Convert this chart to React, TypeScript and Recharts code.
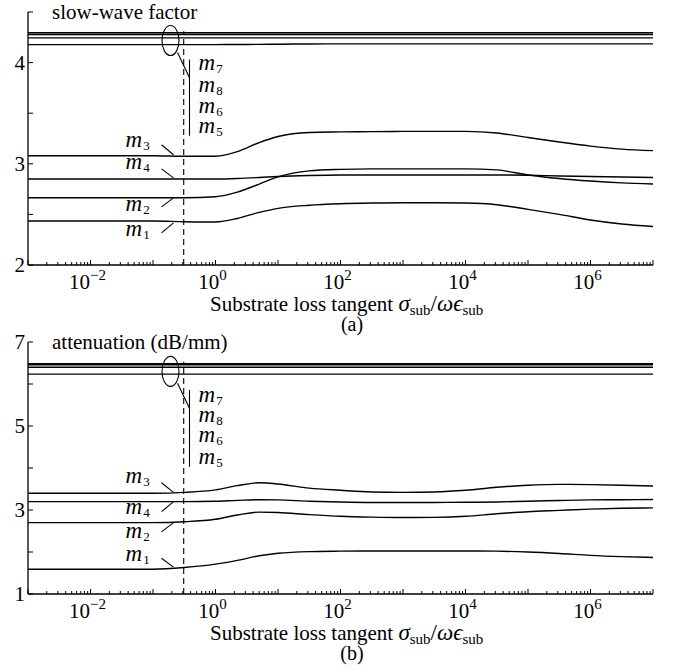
import React from 'react';
import { LineChart, Line, XAxis, YAxis, ReferenceLine, ReferenceDot } from 'recharts';

// x grid as log10 exponents of the substrate loss tangent
const logX = [-3, -2, -1, -0.5, 0, 0.35, 0.7, 1, 1.5, 2, 2.5, 3, 3.5, 4, 4.5, 5, 5.5, 6, 6.5, 7];

// (a) slow-wave factor
const swfM7 = [4.295, 4.295, 4.295, 4.295, 4.295, 4.295, 4.295, 4.295, 4.295, 4.295, 4.295, 4.295, 4.295, 4.295, 4.295, 4.295, 4.295, 4.295, 4.295, 4.295];
const swfM8 = [4.278, 4.278, 4.278, 4.278, 4.278, 4.278, 4.278, 4.278, 4.278, 4.278, 4.278, 4.278, 4.278, 4.278, 4.278, 4.278, 4.278, 4.278, 4.278, 4.278];
const swfM6 = [4.244, 4.244, 4.244, 4.244, 4.244, 4.244, 4.244, 4.244, 4.244, 4.244, 4.244, 4.244, 4.244, 4.244, 4.244, 4.244, 4.244, 4.244, 4.244, 4.244];
const swfM5 = [4.178, 4.178, 4.178, 4.178, 4.178, 4.179, 4.18, 4.182, 4.184, 4.185, 4.185, 4.185, 4.185, 4.185, 4.185, 4.185, 4.185, 4.185, 4.185, 4.185];
const swfM3 = [3.08, 3.08, 3.08, 3.075, 3.075, 3.12, 3.21, 3.27, 3.31, 3.315, 3.318, 3.32, 3.32, 3.32, 3.305, 3.26, 3.215, 3.175, 3.145, 3.13];
const swfM4 = [2.85, 2.85, 2.85, 2.85, 2.85, 2.855, 2.865, 2.875, 2.885, 2.89, 2.89, 2.89, 2.89, 2.89, 2.89, 2.887, 2.88, 2.875, 2.87, 2.865];
const swfM2 = [2.665, 2.665, 2.665, 2.665, 2.675, 2.72, 2.8, 2.87, 2.93, 2.945, 2.95, 2.95, 2.95, 2.95, 2.94, 2.89, 2.855, 2.83, 2.812, 2.8];
const swfM1 = [2.435, 2.435, 2.435, 2.428, 2.425, 2.46, 2.52, 2.56, 2.59, 2.605, 2.612, 2.615, 2.615, 2.612, 2.595, 2.55, 2.5, 2.445, 2.405, 2.38];

// (b) attenuation (dB/mm)
const attM7 = [6.485, 6.485, 6.485, 6.485, 6.485, 6.485, 6.485, 6.485, 6.485, 6.485, 6.485, 6.485, 6.485, 6.485, 6.485, 6.485, 6.485, 6.485, 6.485, 6.485];
const attM8 = [6.46, 6.46, 6.46, 6.46, 6.46, 6.46, 6.46, 6.46, 6.46, 6.46, 6.46, 6.46, 6.46, 6.46, 6.46, 6.46, 6.46, 6.46, 6.46, 6.46];
const attM6 = [6.4, 6.4, 6.4, 6.4, 6.4, 6.4, 6.4, 6.4, 6.4, 6.4, 6.4, 6.4, 6.4, 6.4, 6.4, 6.4, 6.4, 6.4, 6.4, 6.4];
const attM5 = [6.235, 6.235, 6.235, 6.235, 6.235, 6.235, 6.235, 6.235, 6.235, 6.235, 6.235, 6.235, 6.235, 6.235, 6.235, 6.235, 6.235, 6.235, 6.235, 6.235];
const attM3 = [3.4, 3.4, 3.4, 3.42, 3.48, 3.58, 3.65, 3.62, 3.52, 3.47, 3.43, 3.42, 3.43, 3.47, 3.54, 3.59, 3.61, 3.605, 3.59, 3.57];
const attM4 = [3.2, 3.2, 3.2, 3.2, 3.21, 3.23, 3.245, 3.24, 3.21, 3.19, 3.18, 3.18, 3.18, 3.183, 3.19, 3.21, 3.225, 3.24, 3.245, 3.25];
const attM2 = [2.7, 2.7, 2.7, 2.72, 2.78, 2.88, 2.95, 2.94, 2.89, 2.85, 2.83, 2.82, 2.825, 2.85, 2.91, 2.96, 2.99, 3.02, 3.04, 3.05];
const attM1 = [1.59, 1.59, 1.59, 1.63, 1.71, 1.8, 1.91, 1.97, 2.01, 2.02, 2.025, 2.025, 2.025, 2.025, 2.02, 2.0, 1.965, 1.92, 1.89, 1.87];

// axis ticks
const xDecades = [-3, -2, -1, 0, 1, 2, 3, 4, 5, 6, 7];
const xMinorMantissas = [2, 3, 4, 5, 6, 7, 8, 9];
const xLabelExps = [-2, 0, 2, 4, 6];
const yTicksA = [2, 2.5, 3, 3.5, 4, 4.5];
const yLabelsA = [2, 3, 4];
const yTicksB = [1, 2, 3, 4, 5, 6, 7];
const yLabelsB = [1, 3, 5, 7];

// dashed marker at loss tangent ~0.31
const dashedX = 0.31;

// annotation anchors (log10 x, value)
const annA = {
  ellipse: [-0.72, 4.218],
  pointer: [[-0.608, 4.099], [-0.416, 3.851]],
  bracket: [[-0.416, 4.03], [-0.416, 3.277]],
  stackX: -0.272,
  stackY: [3.964, 3.749, 3.54, 3.34],
  leftX: -1.44,
  leftY: [3.208, 2.99, 2.574, 2.327],
  leaders: [[3.188, 3.089], [2.95, 2.861], [2.574, 2.663], [2.317, 2.416]],
  dashTop: 4.31,
};
const annB = {
  ellipse: [-0.72, 6.3],
  pointer: [[-0.608, 6.02], [-0.416, 5.42]],
  bracket: [[-0.416, 5.857], [-0.416, 4.03]],
  stackX: -0.272,
  stackY: [5.66, 5.18, 4.71, 4.19],
  leftX: -1.44,
  leftY: [3.73, 3.0, 2.43, 1.89],
  leaders: [[3.65, 3.42], [2.96, 3.2], [2.48, 2.7], [1.85, 1.64]],
  dashTop: 6.53,
};
const stackLabels = ['7', '8', '6', '5'];
const leftLabels = ['3', '4', '2', '1'];
const leaderX = [-0.864, -0.672];

const FONT = 'Liberation Serif';
const INK = '#000';

const buildData = (cols: Record<string, number[]>) =>
  logX.map((e, i) => {
    const row: Record<string, number> = { x: Math.pow(10, e) };
    Object.keys(cols).forEach((k) => (row[k] = cols[k][i]));
    return row;
  });

const dataA = buildData({ m7: swfM7, m8: swfM8, m6: swfM6, m5: swfM5, m3: swfM3, m4: swfM4, m2: swfM2, m1: swfM1 });
const dataB = buildData({ m7: attM7, m8: attM8, m6: attM6, m5: attM5, m3: attM3, m4: attM4, m2: attM2, m1: attM1 });

const xTicks: number[] = [];
xDecades.forEach((d) => {
  xTicks.push(Math.pow(10, d));
  if (d < 7) xMinorMantissas.forEach((m) => xTicks.push(m * Math.pow(10, d)));
});

const XTick = (props: any) => {
  const { x, y, payload } = props;
  const e = Math.log10(payload.value);
  const re = Math.round(e);
  const major = Math.abs(e - re) < 1e-6;
  const showLabel = major && xLabelExps.includes(re);
  return (
    <g>
      <line x1={x} x2={x} y1={y} y2={y - (major ? 5 : 3)} stroke={INK} strokeWidth={1} />
      {showLabel && (
        <text x={x - 3} y={y + 24} textAnchor="middle" fontFamily={FONT} fontSize={21} fill={INK}>
          10
          <tspan fontSize={15} dy={-9}>{re < 0 ? `\u2212${-re}` : `${re}`}</tspan>
        </text>
      )}
    </g>
  );
};

const makeYTick = (labels: number[]) => (props: any) => {
  const { x, y, payload } = props;
  const show = labels.includes(payload.value);
  return (
    <g>
      <line x1={x} x2={x + 5} y1={y} y2={y} stroke={INK} strokeWidth={1} />
      {show && (
        <text x={x - 3} y={y + 7} textAnchor="end" fontFamily={FONT} fontSize={21} fill={INK}>
          {payload.value}
        </text>
      )}
    </g>
  );
};

const makeXTitle = (tag: string) => (props: any) => {
  const { x, y } = props.viewBox;
  return (
    <g>
      <text x={x + 182} y={y + 46} fontFamily={FONT} fontSize={21} fill={INK}>
        {'Substrate loss tangent '}
        <tspan fontStyle="italic" fontSize={23}>σ</tspan>
        <tspan fontSize={15} dy={4}>sub</tspan>
        <tspan dy={-4} fontSize={23}>/</tspan>
        <tspan fontStyle="italic" fontSize={23}>ωϵ</tspan>
        <tspan fontSize={15} dy={4}>sub</tspan>
      </text>
      <text x={x + 324} y={y + 66} textAnchor="middle" fontFamily={FONT} fontSize={20} fill={INK}>
        {tag}
      </text>
    </g>
  );
};

const makeYTitle = (title: string) => (props: any) => {
  const { y } = props.viewBox;
  return (
    <text x={52} y={y + 6.5} textAnchor="start" fontFamily={FONT} fontSize={21} fill={INK}>
      {title}
    </text>
  );
};

const MLabel = (digit: string) => (p: any) => (
  <text x={p.cx} y={p.cy + 4} fontFamily={FONT} fontSize={21} fill={INK}>
    <tspan fontStyle="italic" fontSize={23}>m</tspan>
    <tspan fontSize={13} dy={3} dx={1}>{digit}</tspan>
  </text>
);

const EllipseShape = (p: any) => (
  <ellipse cx={p.cx} cy={p.cy} rx={8.5} ry={15} fill="none" stroke={INK} strokeWidth={1.1} />
);

const seriesOrder = ['m7', 'm8', 'm6', 'm5', 'm3', 'm4', 'm2', 'm1'];

const renderAnnotations = (ann: typeof annA, yMin: number, key: string) => {
  const p10 = (e: number) => Math.pow(10, e);
  const els: React.ReactNode[] = [];
  els.push(
    <ReferenceLine
      key={`${key}-dash`}
      segment={[{ x: dashedX, y: yMin }, { x: dashedX, y: ann.dashTop }]}
      stroke={INK}
      strokeWidth={1.1}
      strokeDasharray="6 4"
    />
  );
  els.push(
    <ReferenceDot key={`${key}-ell`} x={p10(ann.ellipse[0])} y={ann.ellipse[1]} r={1} shape={EllipseShape} />
  );
  els.push(
    <ReferenceLine
      key={`${key}-ptr`}
      segment={[{ x: p10(ann.pointer[0][0]), y: ann.pointer[0][1] }, { x: p10(ann.pointer[1][0]), y: ann.pointer[1][1] }]}
      stroke={INK}
      strokeWidth={1.1}
    />
  );
  els.push(
    <ReferenceLine
      key={`${key}-brk`}
      segment={[{ x: p10(ann.bracket[0][0]), y: ann.bracket[0][1] }, { x: p10(ann.bracket[1][0]), y: ann.bracket[1][1] }]}
      stroke={INK}
      strokeWidth={1.1}
    />
  );
  ann.stackY.forEach((yy, i) =>
    els.push(
      <ReferenceDot key={`${key}-s${i}`} x={p10(ann.stackX)} y={yy} r={1} shape={MLabel(stackLabels[i])} />
    )
  );
  ann.leftY.forEach((yy, i) =>
    els.push(
      <ReferenceDot key={`${key}-l${i}`} x={p10(ann.leftX)} y={yy} r={1} shape={MLabel(leftLabels[i])} />
    )
  );
  ann.leaders.forEach((ld, i) =>
    els.push(
      <ReferenceLine
        key={`${key}-ld${i}`}
        segment={[{ x: p10(leaderX[0]), y: ld[0] }, { x: p10(leaderX[1]), y: ld[1] }]}
        stroke={INK}
        strokeWidth={1.1}
      />
    )
  );
  return els;
};

const Panel = (props: {
  data: any[];
  height: number;
  xAxisHeight: number;
  yDomain: [number, number];
  yTicks: number[];
  yLabels: number[];
  yTitle: string;
  tag: string;
  ann: typeof annA;
}) => (
  <LineChart
    width={675}
    height={props.height}
    data={props.data}
    margin={{ top: 12, right: 22, left: 0, bottom: 0 }}
  >
    <XAxis
      dataKey="x"
      type="number"
      scale="log"
      domain={[0.001, 1e7]}
      allowDataOverflow
      ticks={xTicks}
      interval={0}
      tickSize={0}
      tickMargin={0}
      tickLine={false}
      tick={XTick}
      height={props.xAxisHeight}
      axisLine={{ stroke: INK, strokeWidth: 1.3 }}
      label={makeXTitle(props.tag)}
    />
    <YAxis
      type="number"
      domain={props.yDomain}
      allowDataOverflow
      ticks={props.yTicks}
      interval={0}
      tickSize={0}
      tickMargin={0}
      tickLine={false}
      tick={makeYTick(props.yLabels)}
      width={28}
      axisLine={{ stroke: INK, strokeWidth: 1.3 }}
      label={makeYTitle(props.yTitle)}
    />
    {seriesOrder.map((k) => (
      <Line
        key={k}
        dataKey={k}
        type="monotone"
        stroke={INK}
        strokeWidth={1.4}
        dot={false}
        activeDot={false}
        isAnimationActive={false}
      />
    ))}
    {renderAnnotations(props.ann, props.yDomain[0], props.tag)}
  </LineChart>
);

export default function App() {
  return (
    <div style={{ position: 'absolute', left: 0, top: 0, width: 675, height: 671, background: '#fff', overflow: 'hidden' }}>
      <div style={{ position: 'absolute', left: 0, top: 0 }}>
        <Panel
          data={dataA}
          height={340}
          xAxisHeight={75}
          yDomain={[2, 4.5]}
          yTicks={yTicksA}
          yLabels={yLabelsA}
          yTitle="slow-wave factor"
          tag="(a)"
          ann={annA}
        />
      </div>
      <div style={{ position: 'absolute', left: 0, top: 330 }}>
        <Panel
          data={dataB}
          height={341}
          xAxisHeight={77}
          yDomain={[1, 7]}
          yTicks={yTicksB}
          yLabels={yLabelsB}
          yTitle="attenuation (dB/mm)"
          tag="(b)"
          ann={annB}
        />
      </div>
    </div>
  );
}
